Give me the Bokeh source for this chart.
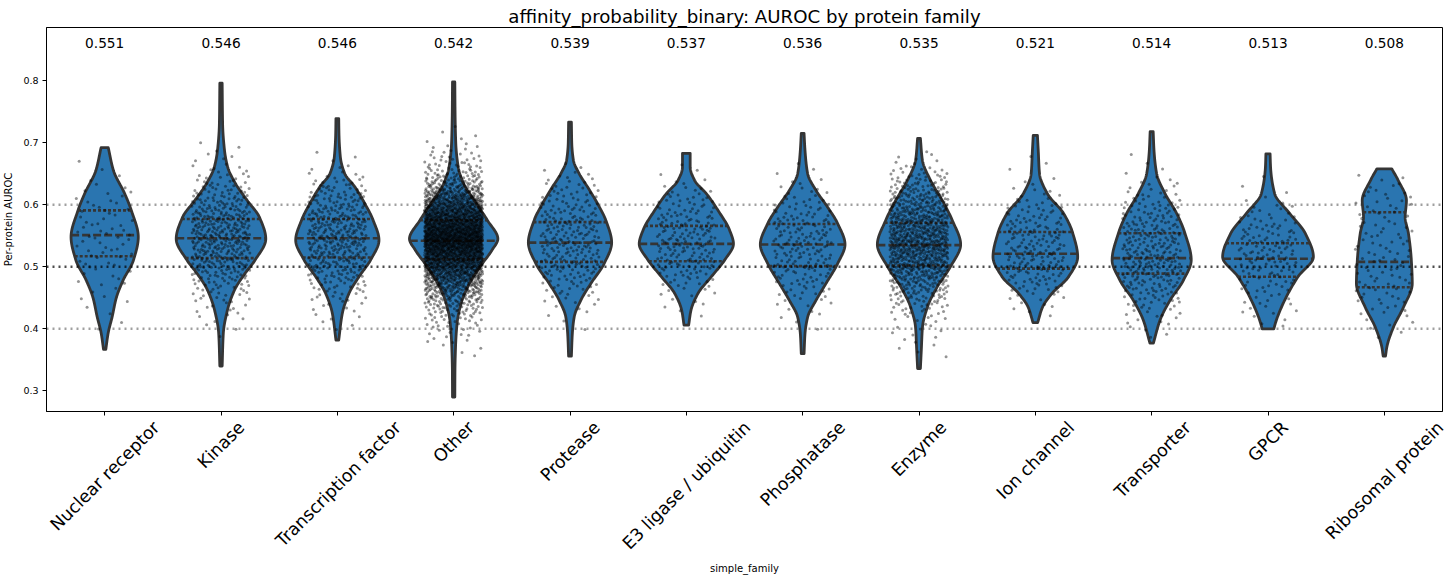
import numpy as np
from bokeh.plotting import figure
from bokeh.models import (Span, FixedTicker, CustomJSTickFormatter, ColumnDataSource,
                          LinearAxis)
from bokeh.embed import file_html
from bokeh.resources import INLINE
from bokeh.core.properties import value

# ---------------- data ----------------
FAMILIES = ["Nuclear receptor", "Kinase", "Transcription factor", "Other", "Protease",
            "E3 ligase / ubiquitin", "Phosphatase", "Enzyme", "Ion channel",
            "Transporter", "GPCR", "Ribosomal protein"]
MEDIANS = [0.551, 0.546, 0.546, 0.542, 0.539, 0.537, 0.536, 0.535, 0.521, 0.514, 0.513, 0.508]
Q1 = [0.517, 0.514, 0.515, 0.512, 0.508, 0.509, 0.501, 0.502, 0.497, 0.489, 0.484, 0.467]
Q3 = [0.591, 0.577, 0.577, 0.575, 0.572, 0.566, 0.569, 0.571, 0.556, 0.554, 0.538, 0.588]
N_PROTEINS = [75, 450, 400, 2500, 250, 200, 200, 900, 200, 300, 150, 110]

# violin outlines: AUROC levels (min..max) and half widths (category units)
NR_Y = [0.367, 0.393, 0.419, 0.450, 0.478, 0.511, 0.548, 0.591, 0.618, 0.655, 0.692]
NR_W = [0.010, 0.030, 0.064, 0.100, 0.158, 0.248, 0.289, 0.229, 0.172, 0.076, 0.031]
KIN_Y = [0.340, 0.393, 0.430, 0.462, 0.489, 0.510, 0.545, 0.580, 0.607, 0.634, 0.661, 0.688, 0.730, 0.796]
KIN_W = [0.010, 0.020, 0.055, 0.115, 0.205, 0.290, 0.385, 0.330, 0.225, 0.125, 0.057, 0.030, 0.014, 0.010]
TF_Y = [0.382, 0.425, 0.457, 0.484, 0.511, 0.543, 0.575, 0.602, 0.629, 0.650, 0.677, 0.715, 0.739]
TF_W = [0.012, 0.043, 0.100, 0.186, 0.286, 0.358, 0.308, 0.236, 0.150, 0.064, 0.026, 0.014, 0.012]
OTH_Y = [0.290, 0.330, 0.370, 0.410, 0.441, 0.473, 0.501, 0.527, 0.545, 0.575, 0.602, 0.634, 0.660, 0.700, 0.750, 0.798]
OTH_W = [0.010, 0.011, 0.016, 0.030, 0.064, 0.136, 0.230, 0.330, 0.380, 0.290, 0.195, 0.086, 0.040, 0.018, 0.012, 0.010]
PRO_Y = [0.356, 0.392, 0.419, 0.446, 0.473, 0.505, 0.539, 0.575, 0.602, 0.629, 0.650, 0.672, 0.700, 0.733]
PRO_W = [0.012, 0.020, 0.036, 0.093, 0.179, 0.293, 0.358, 0.308, 0.236, 0.150, 0.079, 0.029, 0.015, 0.012]
E3_Y = [0.406, 0.430, 0.457, 0.484, 0.511, 0.537, 0.559, 0.591, 0.618, 0.639, 0.661, 0.683]
E3_W = [0.020, 0.040, 0.100, 0.215, 0.330, 0.405, 0.372, 0.272, 0.172, 0.072, 0.033, 0.033]
PHO_Y = [0.360, 0.392, 0.419, 0.446, 0.473, 0.505, 0.536, 0.570, 0.596, 0.623, 0.650, 0.688, 0.715]
PHO_W = [0.012, 0.020, 0.043, 0.115, 0.200, 0.300, 0.364, 0.300, 0.215, 0.115, 0.043, 0.020, 0.012]
ENZ_Y = [0.336, 0.366, 0.403, 0.435, 0.468, 0.500, 0.536, 0.575, 0.607, 0.639, 0.672, 0.707]
ENZ_W = [0.012, 0.020, 0.030, 0.072, 0.158, 0.270, 0.358, 0.286, 0.200, 0.100, 0.029, 0.012]
ION_Y = [0.410, 0.435, 0.457, 0.484, 0.516, 0.554, 0.586, 0.618, 0.650, 0.688, 0.712]
ION_W = [0.020, 0.062, 0.143, 0.286, 0.364, 0.322, 0.243, 0.103, 0.036, 0.025, 0.018]
TRA_Y = [0.377, 0.414, 0.446, 0.478, 0.511, 0.554, 0.586, 0.618, 0.650, 0.688, 0.718]
TRA_W = [0.015, 0.072, 0.158, 0.272, 0.340, 0.286, 0.215, 0.115, 0.043, 0.020, 0.013]
GPCR_Y = [0.400, 0.414, 0.446, 0.484, 0.516, 0.554, 0.586, 0.618, 0.661, 0.682]
GPCR_W = [0.050, 0.072, 0.143, 0.258, 0.390, 0.320, 0.186, 0.057, 0.022, 0.018]
RIB_Y = [0.356, 0.371, 0.403, 0.435, 0.473, 0.511, 0.554, 0.580, 0.607, 0.639, 0.658]
RIB_W = [0.010, 0.022, 0.079, 0.165, 0.240, 0.232, 0.207, 0.179, 0.190, 0.120, 0.064]

PROFILE_Y = [NR_Y, KIN_Y, TF_Y, OTH_Y, PRO_Y, E3_Y, PHO_Y, ENZ_Y, ION_Y, TRA_Y, GPCR_Y, RIB_Y]
PROFILE_W = [NR_W, KIN_W, TF_W, OTH_W, PRO_W, E3_W, PHO_W, ENZ_W, ION_W, TRA_W, GPCR_W, RIB_W]

REF_LEVELS = [0.4, 0.5, 0.6]
Y_TICKS = [0.3, 0.4, 0.5, 0.6, 0.7, 0.8]
TITLE = "affinity_probability_binary: AUROC by protein family"
X_LABEL = "simple_family"
Y_LABEL = "Per-protein AUROC"

# ---------------- layout / styling ----------------
FONT = "DejaVu Sans"
FILL = "#2a75b0"
EDGE = "#353535"
JITTER = 0.25
PAGE_W, PAGE_H = 1456, 581
LEFT, RIGHT, TOP, BOTTOM = 45, 14, 27, 170
FRAME_W = PAGE_W - LEFT - RIGHT
X0, X1 = -0.5, 11.5
PX = FRAME_W / (X1 - X0)
FS = 17.4


def pchip(xk, yk, xq):
    xk = np.asarray(xk, float)
    yk = np.asarray(yk, float)
    xq = np.asarray(xq, float)
    h = np.diff(xk)
    d = np.diff(yk) / h
    n = len(xk)
    m = np.zeros(n)
    for k in range(1, n - 1):
        if d[k - 1] * d[k] > 0:
            w1 = 2 * h[k] + h[k - 1]
            w2 = h[k] + 2 * h[k - 1]
            m[k] = (w1 + w2) / (w1 / d[k - 1] + w2 / d[k])
    m[0] = d[0]
    m[-1] = d[-1]
    idx = np.clip(np.searchsorted(xk, xq) - 1, 0, n - 2)
    t = (xq - xk[idx]) / h[idx]
    h00 = 2 * t**3 - 3 * t**2 + 1
    h10 = t**3 - 2 * t**2 + t
    h01 = -2 * t**3 + 3 * t**2
    h11 = t**3 - t**2
    return h00 * yk[idx] + h10 * h[idx] * m[idx] + h01 * yk[idx + 1] + h11 * h[idx] * m[idx + 1]


def halton(i, base):
    f, r = 1.0, 0.0
    while i > 0:
        f /= base
        r += f * (i % base)
        i //= base
    return r


p = figure(width=PAGE_W, height=PAGE_H, x_range=(X0, X1), y_range=(0.2667, 0.8858),
           output_backend="svg", toolbar_location=None,
           min_border_left=LEFT, min_border_right=RIGHT, min_border_top=TOP,
           min_border_bottom=BOTTOM,
           background_fill_color="white", border_fill_color="white")
p.xgrid.visible = False
p.ygrid.visible = False
p.outline_line_color = "black"
p.outline_line_width = 1
p.outline_line_alpha = 1

p.title.text = TITLE
p.title.align = "center"
p.title.text_font = FONT
p.title.text_font_size = "18.2px"
p.title.text_font_style = "normal"
p.title.text_color = "black"
p.title.standoff = 1
p.title.offset = 0

for lvl in REF_LEVELS:
    if lvl != 0.5:
        p.add_layout(Span(location=lvl, dimension="width", line_color="#808080", line_alpha=0.75,
                          line_width=2.4, line_dash="2 4", level="underlay"))

vx, vy = [], []
med_x0, med_x1, q_x0, q_x1, q_y = [], [], [], [], []
pts_x, pts_y = [], []
for i, (Y, W) in enumerate(zip(PROFILE_Y, PROFILE_W)):
    ys = np.linspace(Y[0], Y[-1], 240)
    ws = np.maximum(pchip(Y, W, ys), 0.008)
    vx.append(np.concatenate([i + ws, (i - ws)[::-1]]))
    vy.append(np.concatenate([ys, ys[::-1]]))
    wm = float(np.maximum(pchip(Y, W, [MEDIANS[i]]), 0.008)[0])
    med_x0.append(i - wm)
    med_x1.append(i + wm)
    for q in (Q1[i], Q3[i]):
        wq = float(np.maximum(pchip(Y, W, [q]), 0.008)[0])
        q_x0.append(i - wq)
        q_x1.append(i + wq)
        q_y.append(q)
    # strip points placed along the outline's own distribution (outline thickness removed)
    fine = np.linspace(Y[0], Y[-1], 2000)
    dens = np.maximum(pchip(Y, W, fine) - 0.012, 0.0)
    cdf = np.concatenate([[0.0], np.cumsum(0.5 * (dens[1:] + dens[:-1]) * np.diff(fine))])
    cdf /= cdf[-1]
    n = N_PROTEINS[i]
    u = np.array([halton(k + 1, 2) for k in range(n)])
    v = np.array([halton(k + 1, 3) for k in range(n)])
    pts_y.append(np.interp(u, cdf, fine))
    pts_x.append(i + (v - 0.5) * 2 * JITTER)

p.patches(xs=vx, ys=vy, fill_color=FILL, fill_alpha=1.0, line_color=EDGE, line_width=2.8,
          line_join="round")
p.segment(x0=q_x0, x1=q_x1, y0=q_y, y1=q_y, line_color=EDGE, line_width=2.6, line_dash="3 2")
p.segment(x0=med_x0, x1=med_x1, y0=MEDIANS, y1=MEDIANS, line_color=EDGE, line_width=2.6,
          line_dash="8 3")
p.scatter(x=np.concatenate(pts_x), y=np.concatenate(pts_y), size=3.0, fill_color="black",
          fill_alpha=0.42, line_color=None)

p.add_layout(Span(location=0.5, dimension="width", line_color="black", line_alpha=0.7,
                  line_width=2.4, line_dash="2 4"))

src = ColumnDataSource(dict(x=list(range(len(FAMILIES))), y=[0.861] * len(FAMILIES),
                            t=[f"{m:.3f}" for m in MEDIANS]))
p.text(x="x", y="y", text="t", source=src, text_align="center", text_baseline="alphabetic",
       text_font=value(FONT), text_font_size="13.7px", text_color="black")

# y axis
p.yaxis.ticker = FixedTicker(ticks=Y_TICKS)
p.yaxis.minor_tick_line_color = None
p.yaxis.major_tick_in = 0
p.yaxis.major_tick_out = 4
p.yaxis.major_label_text_font = FONT
p.yaxis.major_label_text_font_size = "9.5px"
p.yaxis.major_label_text_color = "black"
p.yaxis.major_label_standoff = 4
p.yaxis.axis_label = Y_LABEL
p.yaxis.axis_label_text_font = FONT
p.yaxis.axis_label_text_font_size = "10px"
p.yaxis.axis_label_text_font_style = "normal"
p.yaxis.axis_label_text_color = "black"
p.yaxis.axis_label_standoff = 6

# x axis: tick marks at each category
p.xaxis.ticker = FixedTicker(ticks=list(range(len(FAMILIES))))
p.xaxis.minor_tick_line_color = None
p.xaxis.major_tick_in = 0
p.xaxis.major_tick_out = 4
p.xaxis.formatter = CustomJSTickFormatter(code="return '';")
p.xaxis.major_label_text_font_size = "1px"
p.xaxis.major_label_standoff = 0

# second x axis carrying the rotated category names, anchored so that each
# rotated label is centred under its category (as matplotlib's ha="center")
CHAR_EM = {' ': .318, '/': .337, '3': .636, 'C': .698, 'E': .632, 'G': .775, 'I': .295,
           'K': .656, 'N': .748, 'O': .787, 'P': .603, 'R': .695, 'T': .611, 'a': .613,
           'b': .635, 'c': .550, 'e': .615, 'f': .352, 'g': .635, 'h': .634, 'i': .278,
           'l': .278, 'm': .974, 'n': .634, 'o': .612, 'p': .635, 'q': .635, 'r': .411,
           's': .521, 't': .392, 'u': .634, 'y': .592, 'z': .525}
label_ticks = []
for i, name in enumerate(FAMILIES):
    w = sum(CHAR_EM.get(ch, 0.6) for ch in name) * FS
    label_ticks.append(i + 0.3536 * w / PX)

cat_axis = LinearAxis(ticker=FixedTicker(ticks=label_ticks),
                      formatter=CustomJSTickFormatter(args=dict(names=FAMILIES),
                                                      code="return names[index];"),
                      major_label_orientation=np.pi / 4,
                      major_label_text_font=FONT, major_label_text_font_size=f"{FS}px",
                      major_label_text_color="black", major_label_standoff=9,
                      major_tick_line_color=None, major_tick_in=0, major_tick_out=0,
                      minor_tick_line_color=None, axis_line_color=None,
                      axis_label=X_LABEL, axis_label_text_font=FONT,
                      axis_label_text_font_size="10px", axis_label_text_font_style="normal",
                      axis_label_text_color="black", axis_label_standoff=0)
p.add_layout(cat_axis, "below")

open("out.html", "w").write(file_html(p, INLINE))
